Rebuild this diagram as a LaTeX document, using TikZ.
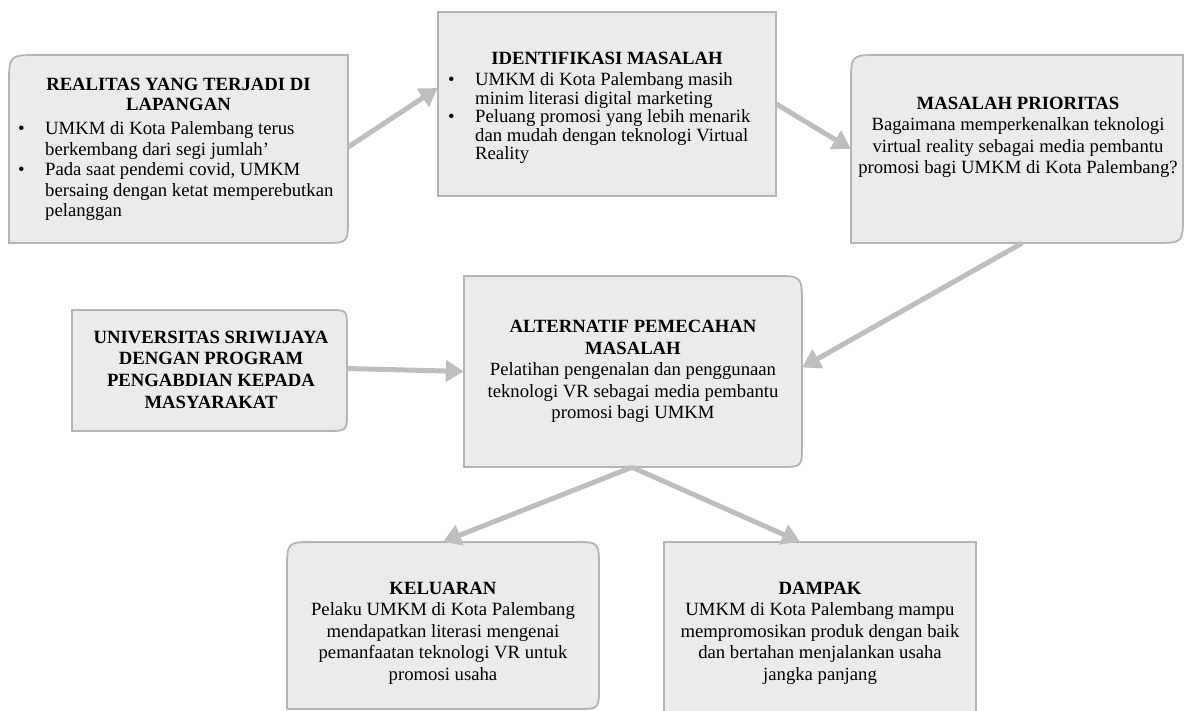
\documentclass[tikz,border=0pt]{standalone}
\usepackage{fontspec}
\setmainfont{Liberation Serif}
\usetikzlibrary{arrows.meta,calc}
\definecolor{panelfill}{HTML}{EBEBEB}
\definecolor{panelline}{HTML}{B4B4B4}
\definecolor{arrowgray}{HTML}{BEBEBE}
\newcommand\bl{\makebox[32pt][l]{\hspace*{5pt}\textbullet}}
\newcommand\ind{\hspace*{32pt}}
% name, x0, y0, x1, y1, r(top-left), r(top-right), r(bottom-right), r(bottom-left)
\newcommand\panelbox[9]{%
  \pgfmathsetmacro\pw{#4-#2}\pgfmathsetmacro\ph{#5-#3}%
  \node[anchorbox, minimum width=\pw pt, minimum height=\ph pt] (#1) at ({(#2+#4)/2},{(#3+#5)/2}) {};
  \filldraw[panel] (#2,{#3+#6}) .. controls (#2,#3) .. ({#2+#6},#3) -- ({#4-#7},#3) .. controls (#4,#3) .. (#4,{#3+#7}) -- (#4,{#5-#8}) .. controls (#4,#5) .. ({#4-#8},#5) -- ({#2+#9},#5) .. controls (#2,#5) .. (#2,{#5-#9}) -- cycle;
}
\begin{document}
\begin{tikzpicture}[x=1pt,y=-1pt,
  anchorbox/.style={inner sep=0pt, draw=none, rectangle},
  panel/.style={fill=panelfill, draw=panelline, line width=1.8pt},
  ctext/.style={inner sep=0pt, align=center, anchor=north, font=\fontsize{18.7}{21.5}\selectfont},
  ttl/.style={ctext, font=\fontsize{18.7}{20.7}\selectfont\bfseries},
  lst/.style={inner sep=0pt, align=left, anchor=north west, font=\fontsize{18.7}{20.5}\selectfont},
  link/.style={draw=arrowgray, line width=5pt, -{Triangle[length=18pt,width=21pt]}}
]
\useasboundingbox (0,0) rectangle (1186,711);

\panelbox{b1}{9}{55}{348}{243}{30}{0}{25}{0}
\panelbox{b2}{438}{12}{776}{196}{0}{0}{0}{0}
\panelbox{b3}{851}{55}{1183}{243}{28}{0}{28}{0}
\panelbox{b4}{72}{310}{347}{431}{0}{18}{20}{0}
\panelbox{b5}{464}{276}{802}{467}{0}{28}{22}{0}
\panelbox{b6}{287}{542}{599}{709}{28}{25}{22}{0}
\panelbox{b7}{664}{542}{976}{716}{0}{0}{0}{0}

% texts
\node[ttl] (t1) at (178.5,77.5) {REALITAS YANG TERJADI DI\\LAPANGAN};
\node[lst] (l1) at (13,121.5) {\bl UMKM di Kota Palembang terus\\\ind berkembang dari segi jumlah’\\\bl Pada saat pendemi covid, UMKM\\\ind bersaing dengan ketat memperebutkan\\\ind pelanggan};

\node[ttl] (t2) at (607,51.5) {IDENTIFIKASI MASALAH};
\node[lst, font=\fontsize{18.7}{18.5}\selectfont] (l2) at (443,72.5) {\bl UMKM di Kota Palembang masih\\\ind minim literasi digital marketing\\\bl Peluang promosi yang lebih menarik\\\ind dan mudah dengan teknologi Virtual\\\ind Reality};

\node[ctext] (t3) at (1018,96.5) {\textbf{MASALAH PRIORITAS}\\Bagaimana memperkenalkan teknologi\\virtual reality sebagai media pembantu\\promosi bagi UMKM di Kota Palembang?};

\node[ctext, font=\fontsize{18.7}{21.8}\selectfont\bfseries] (t4) at (211,330.5) {UNIVERSITAS SRIWIJAYA\\DENGAN PROGRAM\\PENGABDIAN KEPADA\\MASYARAKAT};

\node[ctext] (t5) at (633,320) {\textbf{ALTERNATIF PEMECAHAN}\\\textbf{MASALAH}\\Pelatihan pengenalan dan penggunaan\\teknologi VR sebagai media pembantu\\promosi bagi UMKM};

\node[ctext] (t6) at (443,581.5) {\textbf{KELUARAN}\\Pelaku UMKM di Kota Palembang\\mendapatkan literasi mengenai\\pemanfaatan teknologi VR untuk\\promosi usaha};

\node[ctext] (t7) at (820,581.5) {\textbf{DAMPAK}\\UMKM di Kota Palembang mampu\\mempromosikan produk dengan baik\\dan bertahan menjalankan usaha\\jangka panjang};

% connectors
\draw[link] ([yshift=2pt]b1.east) -- ([yshift=16pt]b2.west);
\draw[link] (b2.east) -- (b3.west);
\draw[link] ([xshift=5pt]b3.south) -- ([yshift=4pt]b5.east);
\draw[link] ([yshift=2pt]b4.east) -- (b5.west);
\draw[link] ([xshift=-1pt]b5.south) -- (b6.north);
\draw[link] ([xshift=-1pt]b5.south) -- ([xshift=-20pt]b7.north);
\end{tikzpicture}
\end{document}
